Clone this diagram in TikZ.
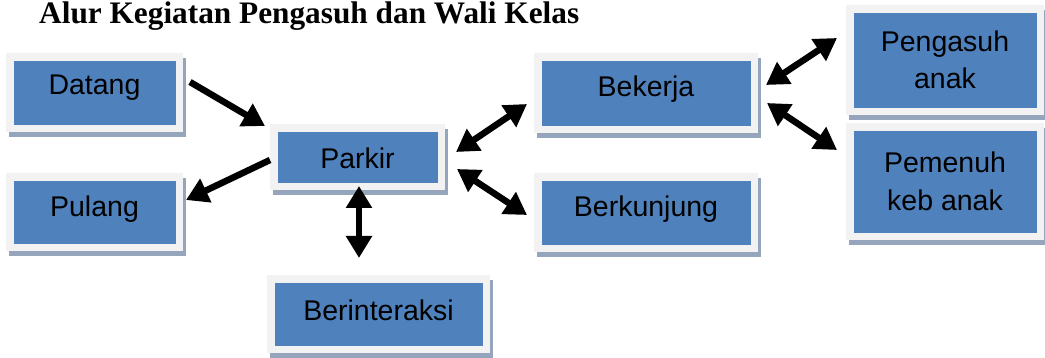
\documentclass[tikz,border=0pt]{standalone}
\usepackage{fontspec}
\setmainfont{Liberation Sans}
\newfontfamily\titlefont{Liberation Serif}
\usetikzlibrary{arrows.meta,shadows,calc}
\definecolor{boxblue}{HTML}{4F81BD}
\definecolor{framegray}{HTML}{F2F2F2}
\definecolor{shadowgray}{HTML}{95A5BC}
\tikzset{
  box/.style={fill=framegray, inner sep=0pt, outer sep=0pt, align=center,
    font=\fontsize{28.5}{37.5}\selectfont,
    drop shadow={shadow xshift=2.5pt, shadow yshift=-5.5pt, fill=shadowgray, opacity=1},
    path picture={\fill[boxblue]
      ([xshift=8pt,yshift=7pt]path picture bounding box.south west) rectangle
      ([xshift=-7pt,yshift=-8pt]path picture bounding box.north east);}},
  oneway/.style={line width=6.5pt, -{Triangle[width=25pt,length=22pt]}},
  twoway/.style={line width=6.5pt, {Triangle[width=25pt,length=22pt]}-{Triangle[width=25pt,length=22pt]}}
}
\begin{document}
\begin{tikzpicture}[x=1pt,y=-1pt]
  \fill[white] (0,0) rectangle (1045,358);
  \useasboundingbox (0,0) rectangle (1045,358);

  \node[anchor=base west, inner sep=0pt,
        font=\titlefont\fontsize{31.3}{34}\selectfont\bfseries]
        (title) at (39,24) {Alur Kegiatan Pengasuh dan Wali Kelas};

  % activity boxes
  \node[box, minimum width=177pt, minimum height=79pt, text height=22.2pt, text depth=17.8pt]
        (datang) at (94.5,92.5) {Datang};
  \node[box, minimum width=177pt, minimum height=78pt, text height=24.2pt, text depth=15.8pt]
        (pulang) at (94.5,212) {Pulang};
  \node[box, minimum width=175pt, minimum height=66pt, text height=32pt, text depth=8pt]
        (parkir) at (357.5,157) {Parkir};
  \node[box, minimum width=223pt, minimum height=78pt, text height=26.7pt, text depth=13.3pt]
        (berint) at (378.5,314) {Berinteraksi};
  \node[box, minimum width=224pt, minimum height=80pt, text height=23.2pt, text depth=16.8pt]
        (bekerja) at (646,93) {Bekerja};
  \node[box, minimum width=224pt, minimum height=79pt, text height=24.2pt, text depth=15.8pt]
        (berkunj) at (646,212.5) {Berkunjung};
  \node[box, minimum width=198pt, minimum height=110pt]
        (pengasuh) at (945,60) {Pengasuh\\anak};
  \node[box, minimum width=198pt, minimum height=117pt]
        (pemenuh) at (945,181.5) {Pemenuh\\keb anak};

  % flow arrows
  \draw[oneway] ($(datang)+(95.5,-10.5)$) -- ($(parkir)+(-92.5,-31)$);
  \draw[oneway] ($(parkir)+(-87.5,3)$) -- ($(pulang)+(91.5,-12)$);
  \draw[twoway] ($(parkir)+(98.5,-5)$) -- ($(bekerja)+(-119,11)$);
  \draw[twoway] ($(parkir)+(99.5,12)$) -- ($(berkunj)+(-119,2.5)$);
  \draw[twoway] ($(bekerja)+(120,-8)$) -- ($(pengasuh)+(-108,-22)$);
  \draw[twoway] ($(bekerja)+(121,10)$) -- ($(pemenuh)+(-108,-31.5)$);
  \draw[twoway] ($(parkir)+(1.5,29)$) -- ($(berint)+(-19.5,-56)$);
\end{tikzpicture}
\end{document}
